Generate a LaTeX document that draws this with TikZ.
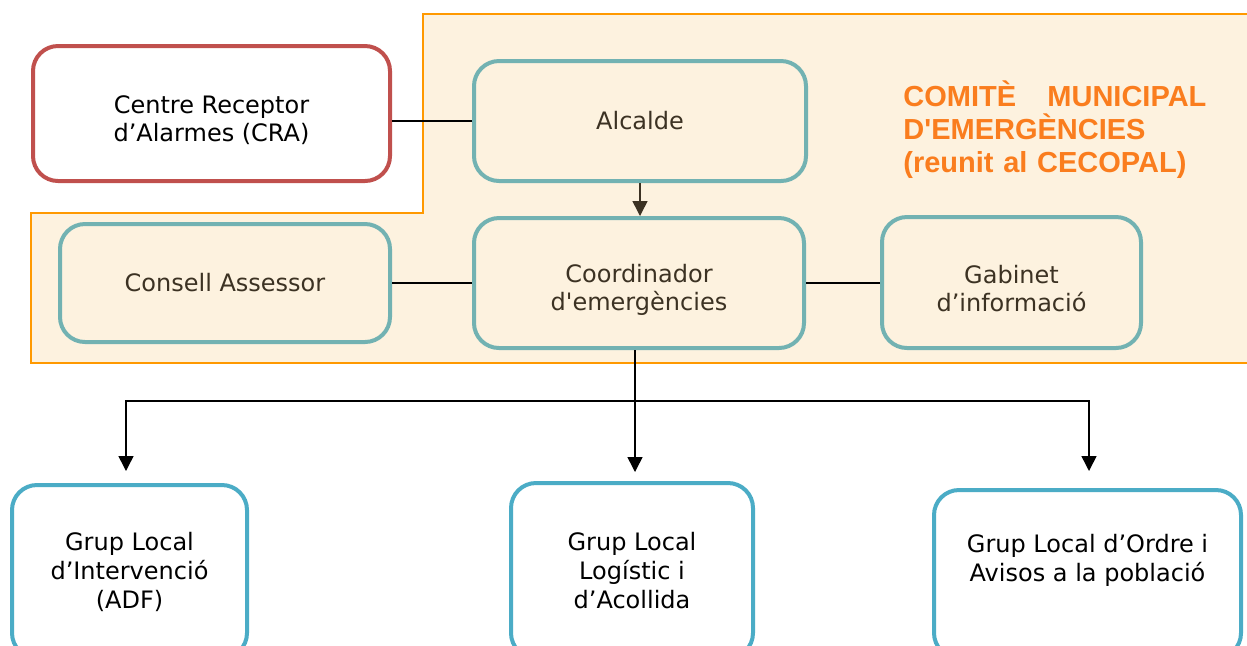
\documentclass[tikz,border=0pt]{standalone}
\usepackage{fontspec}
\setmainfont{DejaVu Sans}[Ligatures=TeXOff]
\newfontfamily\titlefont{Liberation Sans}[Ligatures=TeXOff]
\usetikzlibrary{
  arrows.meta,
  positioning,
  backgrounds,
}
\definecolor{cm_teal}{RGB}{114,178,178}
\definecolor{cm_blue}{RGB}{75,172,198}
\definecolor{cm_red}{RGB}{192,80,77}
\definecolor{cm_orange}{RGB}{255,153,0}
\definecolor{cm_cream}{RGB}{253,242,223}
\definecolor{cm_brown}{RGB}{60,50,35}
\definecolor{cm_title}{RGB}{250,125,30}
\tikzset{
  >={Triangle[width=7.5pt,length=7.5pt]},
  box/.style={draw, rounded corners=12.5pt, line width=2pt, align=center,
    inner sep=0pt, font=\fontsize{12}{14}\selectfont},
  comite/.style={box, draw=cm_teal, fill=cm_cream, text=cm_brown},
  grup/.style={box, draw=cm_blue, fill=white, font=\fontsize{12}{14.5}\selectfont},
  lowtext/.style={text height=29.5pt},
  link/.style={line width=0.75pt},
}

\begin{document}
\begin{tikzpicture}[x=0.5pt, y=-0.5pt]
    \useasboundingbox (0,0) rectangle (1247,645);

    % committee area (stepped outline)
    \draw[cm_orange, fill=cm_cream, line width=0.8pt]
      (423,14) -- (1260,14) -- (1260,363) -- (31,363) -- (31,213) -- (423,213) -- cycle;

    \node[anchor=north west, inner sep=0pt, text=cm_title, text width=151.5pt, align=left,
      font=\titlefont\bfseries\fontsize{14.5}{16.5}\selectfont] (titol) at (903,80)
      {COMITÈ\hfill MUNICIPAL\\D'EMERGÈNCIES\\(reunit al CECOPAL)};

    % boxes
    \node[box, lowtext, draw=cm_red, fill=white, minimum width=178.5pt, minimum height=67.5pt]
      (cra) at (211.5,113.5) {Centre Receptor\\d’Alarmes (CRA)};
    \node[comite, minimum width=166pt, minimum height=60pt] (alcalde) at (640,121) {Alcalde};
    \node[comite, lowtext, minimum width=165pt, minimum height=65pt] (coord) at (639,283)
      {Coordinador\\d'emergències};
    \node[comite, minimum width=165pt, minimum height=59pt] (consell) at (225,283)
      {Consell Assessor};
    \node[comite, lowtext, minimum width=129.5pt, minimum height=65.5pt] (gabinet) at (1011.5,282.5)
      {Gabinet\\d’informació};

    \node[grup, minimum width=117.5pt, minimum height=86.5pt] (interv) at (129.5,571.5)
      {Grup Local\\d’Intervenció\\(ADF)};
    \node[grup, minimum width=121pt, minimum height=87.5pt] (logistic) at (632,570.5)
      {Grup Local\\Logístic i\\d’Acollida};
    \node[grup, text depth=16pt, minimum width=153.5pt, minimum height=84pt]
      (ordre) at (1087.5,574) {Grup Local d’Ordre i\\Avisos a la població};

    % connectors
    \draw[link] (alcalde.west) -- (alcalde.west -| cra.east);
    \draw[link, cm_brown, ->] (alcalde.south) -- (alcalde.south |- coord.north);
    \draw[link] (consell.east) -- (coord.west);
    \draw[link] (coord.east) -- (coord.east -| gabinet.west);

    % branches to the local groups
    \coordinate (split) at ([xshift=-2pt]coord.south);
    \coordinate (bus) at (split |- 0,401);
    \draw[link, ->, shorten >=4.5pt] (split) -- (split |- logistic.north);
    \draw[link, ->, shorten >=6pt] (bus) -| ([xshift=-1.75pt]interv.north);
    \draw[link, ->, shorten >=8.5pt] (bus) -| ([xshift=0.75pt]ordre.north);
  \end{tikzpicture}
\end{document}
